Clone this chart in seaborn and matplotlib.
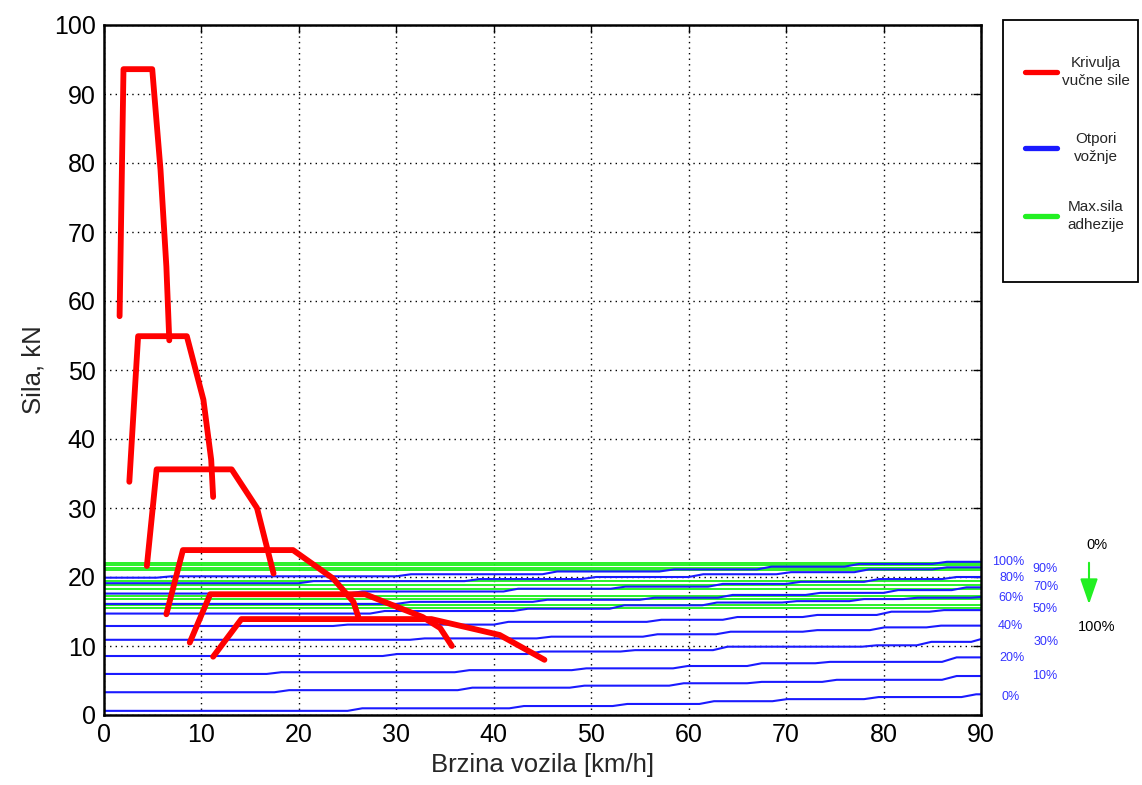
import numpy as np
import pandas as pd
import matplotlib
matplotlib.use("Agg")
import matplotlib.pyplot as plt
import seaborn as sns
from matplotlib.lines import Line2D
from matplotlib.patches import Rectangle

# ---------------- data ----------------
# Traction force curves (one per gear): speed [km/h], force [kN]
gear1_v = [1.6, 2.0, 4.95, 5.8, 6.4, 6.7]
gear1_f = [57.8, 93.6, 93.6, 79.0, 65.0, 54.3]
gear2_v = [2.6, 3.5, 8.5, 10.2, 11.0, 11.2]
gear2_f = [33.8, 54.9, 54.9, 45.7, 37.0, 31.6]
gear3_v = [4.4, 5.4, 13.1, 15.7, 17.4]
gear3_f = [21.6, 35.6, 35.6, 30.0, 20.5]
gear4_v = [6.4, 8.1, 19.4, 23.5, 25.6, 26.1]
gear4_f = [14.6, 23.9, 23.9, 19.8, 16.4, 14.2]
gear5_v = [8.8, 10.9, 26.8, 32.7, 34.5, 35.7]
gear5_f = [10.5, 17.5, 17.5, 14.2, 12.6, 10.0]
gear6_v = [11.2, 14.1, 33.6, 40.6, 45.2]
gear6_f = [8.45, 13.9, 13.9, 11.6, 8.0]

# Driving resistance (stepped), per load level: speeds where a step occurs, force levels
res_labels = ["0%", "10%", "20%", "30%", "40%", "50%", "60%", "70%", "80%", "90%", "100%"]
res0_steps = [25.0, 41.6, 52.2, 61.1, 68.6, 78.0, 88.0]
res0_levels = [0.6, 0.97, 1.3, 1.6, 2.0, 2.3, 2.6, 3.0]
res10_steps = [17.5, 36.3, 47.8, 58.0, 66.0, 73.7, 86.0]
res10_levels = [3.3, 3.6, 3.96, 4.25, 4.6, 4.8, 5.1, 5.65]
res20_steps = [16.7, 36.0, 48.0, 58.4, 66.0, 73.0, 86.0]
res20_levels = [5.95, 6.2, 6.5, 6.76, 7.1, 7.5, 7.7, 8.35]
res30_steps = [28.6, 43.4, 53.0, 62.5, 77.8, 83.4, 89.0]
res30_levels = [8.55, 8.84, 9.2, 9.4, 9.9, 10.1, 10.6, 11.0]
res40_steps = [31.4, 44.4, 55.3, 62.8, 71.7, 78.6, 84.4]
res40_levels = [10.9, 11.1, 11.35, 11.7, 12.07, 12.3, 12.7, 12.95]
res50_steps = [23.5, 40.0, 55.7, 63.5, 71.7, 79.3, 84.7]
res50_levels = [12.9, 13.1, 13.5, 13.8, 14.2, 14.5, 14.97, 15.2]
res60_steps = [27.3, 42.0, 51.9, 61.4, 69.6, 76.5, 82.0, 89.0]
res60_levels = [14.7, 15.07, 15.4, 15.9, 16.3, 16.5, 16.8, 17.0, 17.1]
res70_steps = [30.0, 44.0, 55.0, 63.0, 72.0, 80.0, 87.0]
res70_levels = [16.1, 16.4, 16.7, 17.0, 17.4, 17.7, 18.1, 18.5]
res80_steps = [25.0, 41.0, 52.0, 62.0, 70.0, 78.0, 86.0]
res80_levels = [17.6, 17.9, 18.3, 18.6, 19.0, 19.3, 19.7, 20.0]
res90_steps = [20.0, 37.0, 49.0, 60.0, 69.0, 77.0, 85.0]
res90_levels = [19.1, 19.4, 19.7, 20.0, 20.4, 20.7, 21.1, 21.4]
res100_steps = [5.4, 30.0, 45.0, 57.0, 67.0, 76.0, 85.0]
res100_levels = [19.9, 20.1, 20.4, 20.8, 21.1, 21.5, 21.9, 22.2]

# Max adhesion force levels [kN]
adhesion = [22.1, 21.7, 21.35, 21.0, 19.4, 18.9, 18.3, 17.2, 16.8, 16.0, 15.5]

x_ticks = [0, 10, 20, 30, 40, 50, 60, 70, 80, 90]
y_ticks = [0, 10, 20, 30, 40, 50, 60, 70, 80, 90, 100]
legend_labels = ["Krivulja\nvučne sile", "Otpori\nvožnje", "Max.sila\nadhezije"]

# ---------------- style ----------------
sns.set_theme(style="white")
plt.rcParams["font.family"] = ["Liberation Sans", "DejaVu Sans"]

W, H = 1142, 785
fig = plt.figure(figsize=(W / 100, H / 100), dpi=100)
ax = fig.add_axes([104 / W, 1 - 715 / H, (981 - 104) / W, (715 - 25) / H])

RED, BLUE, GREEN = "#ff0000", "#1a1aff", "#22f022"
RAMP = 1.5
V_MIN, V_MAX = 0.0, 90.0

def stepped(steps, levels):
    xs, ys = [V_MIN], [levels[0]]
    for s, a, b in zip(steps, levels[:-1], levels[1:]):
        xs += [s, min(s + RAMP, V_MAX)]
        ys += [a, b]
    xs.append(V_MAX)
    ys.append(levels[-1])
    return xs, ys

# green adhesion lines
for lvl in adhesion:
    df = pd.DataFrame({"v": [V_MIN, V_MAX], "f": [lvl, lvl]})
    sns.lineplot(data=df, x="v", y="f", ax=ax, color=GREEN, lw=1.35, sort=False, estimator=None)

res_all = [
    (res0_steps, res0_levels), (res10_steps, res10_levels), (res20_steps, res20_levels),
    (res30_steps, res30_levels), (res40_steps, res40_levels), (res50_steps, res50_levels),
    (res60_steps, res60_levels), (res70_steps, res70_levels), (res80_steps, res80_levels),
    (res90_steps, res90_levels), (res100_steps, res100_levels),
]
for steps, levels in res_all:
    xs, ys = stepped(steps, levels)
    df = pd.DataFrame({"v": xs, "f": ys})
    sns.lineplot(data=df, x="v", y="f", ax=ax, color=BLUE, lw=1.5, sort=False, estimator=None)

gears = [(gear1_v, gear1_f), (gear2_v, gear2_f), (gear3_v, gear3_f),
         (gear4_v, gear4_f), (gear5_v, gear5_f), (gear6_v, gear6_f)]
for gv, gf in gears:
    df = pd.DataFrame({"v": gv, "f": gf})
    sns.lineplot(data=df, x="v", y="f", ax=ax, color=RED, lw=4.2, sort=False,
                 estimator=None, solid_capstyle="round", solid_joinstyle="round")

ax.set_xlim(0, 90)
ax.set_ylim(0, 100)
ax.set_xticks(x_ticks)
ax.set_yticks(y_ticks)
ax.grid(True, color="black", linestyle=(0, (1, 3)), linewidth=1.0)
ax.set_axisbelow(True)
for sp in ax.spines.values():
    sp.set_color("black")
    sp.set_linewidth(1.8)
ax.tick_params(axis="both", direction="in", length=6, width=1, colors="black",
               labelsize=18, pad=6, top=True, right=True)
ax.set_xlabel("Brzina vozila [km/h]", fontsize=18.5, labelpad=4)
ax.set_ylabel("Sila, kN", fontsize=18.5, labelpad=6)

# legend box drawn in figure pixels
def fx(px):
    return px / W

def fy(py):
    return 1 - py / H

fig.add_artist(Rectangle((fx(1003), fy(282)), fx(1138) - fx(1003), fy(20) - fy(282),
                         transform=fig.transFigure, facecolor="white", edgecolor="black",
                         lw=1.3))
for lab, col, yc in zip(legend_labels, [RED, BLUE, GREEN], [72, 148, 216]):
    fig.add_artist(Line2D([fx(1025), fx(1057)], [fy(yc), fy(yc)], color=col, lw=3.8,
                          solid_capstyle="round", transform=fig.transFigure))
    fig.text(fx(1096), fy(yc), lab, fontsize=11, ha="center", va="center",
             multialignment="center", linespacing=1.4)

# percent labels at the right
label_pos = {  # (x px, y px)
    "100%": (992, 562), "90%": (1032, 569), "80%": (999, 578), "70%": (1033, 587),
    "60%": (998, 598), "50%": (1033, 609), "40%": (998, 626), "30%": (1034, 642),
    "20%": (999, 658), "10%": (1032, 676), "0%": (1001, 697),
}
for lab in res_labels:
    px, py = label_pos[lab]
    fig.text(fx(px), fy(py), lab, color="#3333ff", fontsize=9, ha="left", va="center")

fig.text(fx(1097), fy(545), "0%", color="black", fontsize=10.5, ha="center", va="center")
fig.text(fx(1097), fy(627), "100%", color="black", fontsize=10.5, ha="center", va="center")
ax.annotate("", xy=(fx(1089), fy(607)), xytext=(fx(1089), fy(560)),
            xycoords="figure fraction", textcoords="figure fraction",
            arrowprops=dict(arrowstyle="-|>,head_width=0.45,head_length=1.3",
                            color=GREEN, lw=1.5), annotation_clip=False)

fig.savefig("out.png", dpi=100)
